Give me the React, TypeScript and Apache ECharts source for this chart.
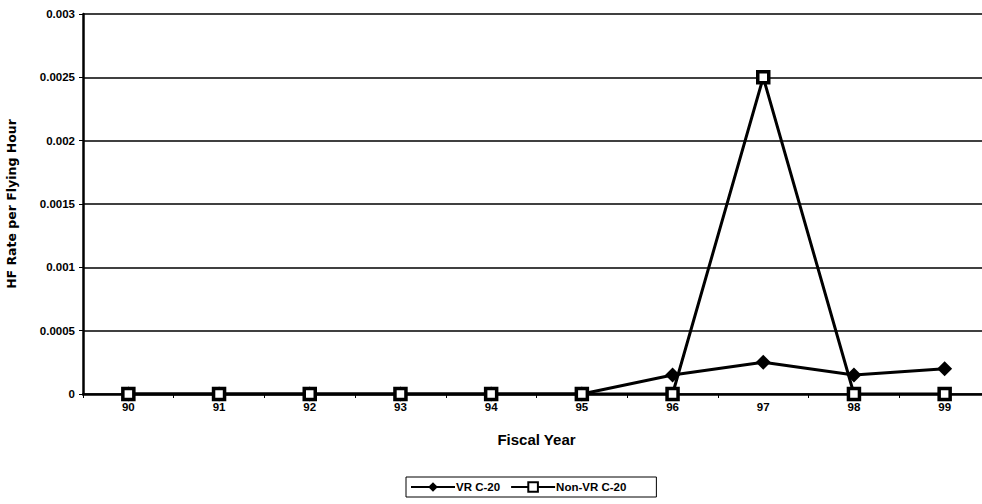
import React, { useEffect, useRef } from "react";
import * as echarts from "echarts";

const fiscalYears = ["90", "91", "92", "93", "94", "95", "96", "97", "98", "99"];
const vrC20 = [0, 0, 0, 0, 0, 0, 0.00015, 0.00025, 0.00015, 0.0002];
const nonVrC20 = [0, 0, 0, 0, 0, 0, 0, 0.0025, 0, 0];

const FONT = "'Liberation Sans', Arial, sans-serif";
const WIDE_FONT = "'DejaVu Sans', 'Liberation Sans', sans-serif";

export default function App() {
  const ref = useRef<HTMLDivElement>(null);

  useEffect(() => {
    if (!ref.current) return;
    const chart = echarts.init(ref.current, null, { renderer: "svg" });
    chart.setOption({
      animation: false,
      backgroundColor: "#ffffff",
      textStyle: { fontFamily: FONT, color: "#000" },
      // plot area runs a little past the right edge of the visible page
      grid: { left: 83, right: 0, top: 14, bottom: 110, containLabel: false, outerBoundsMode: "none" },
      legend: {
        bottom: 7,
        left: 406,
        itemGap: 10,
        itemWidth: 44,
        itemHeight: 12,
        borderColor: "#000",
        borderWidth: 1,
        borderRadius: 0,
        padding: [4, 30, 4, 4],
        textStyle: { fontFamily: FONT, fontSize: 11.5, color: "#000", fontWeight: "bold", padding: [0, 0, 0, -4] },
        data: ["VR C-20", "Non-VR C-20"],
      },
      xAxis: {
        type: "category",
        data: fiscalYears,
        boundaryGap: true,
        name: "Fiscal Year",
        nameLocation: "middle",
        nameGap: 38,
        nameTextStyle: { fontFamily: FONT, fontSize: 15, fontWeight: "bold", color: "#000" },
        axisLine: { lineStyle: { color: "#000", width: 2.5 } },
        axisTick: { show: true, length: 4, lineStyle: { color: "#000", width: 1 } },
        axisLabel: { fontFamily: FONT, fontSize: 11.5, fontWeight: "bold", color: "#000", margin: 7 },
        splitLine: { show: false },
      },
      yAxis: {
        type: "value",
        min: 0,
        max: 0.003,
        interval: 0.0005,
        name: "HF Rate per Flying Hour",
        nameLocation: "middle",
        nameGap: 65,
        nameRotate: 90,
        nameTextStyle: { fontFamily: WIDE_FONT, fontSize: 12.5, fontWeight: "bold", color: "#000" },
        axisLine: { show: true, lineStyle: { color: "#000", width: 2.5 } },
        axisTick: { show: true, length: 4, lineStyle: { color: "#000", width: 1 } },
        axisLabel: {
          fontFamily: FONT,
          fontSize: 11.5,
          fontWeight: "bold",
          color: "#000",
          margin: 8,
          formatter: (v: number) => (v === 0 ? "0" : String(parseFloat(v.toFixed(4)))),
        },
        splitLine: { show: true, lineStyle: { color: "#000", width: 1.5 } },
      },
      series: [
        {
          name: "VR C-20",
          type: "line",
          data: vrC20,
          symbol: "diamond",
          symbolSize: 15,
          itemStyle: { color: "#000" },
          lineStyle: { color: "#000", width: 3 },
          z: 3,
        },
        {
          name: "Non-VR C-20",
          type: "line",
          data: nonVrC20,
          symbol: "rect",
          symbolSize: 11,
          itemStyle: { color: "#fff", borderColor: "#000", borderWidth: 3.5 },
          lineStyle: { color: "#000", width: 3 },
          z: 4,
        },
      ],
    });
    return () => chart.dispose();
  }, []);

  return (
    <div
      style={{ position: "fixed", left: 0, top: 0, width: 982, height: 504, overflow: "hidden", background: "#fff" }}
    >
      <div ref={ref} style={{ width: 990, height: 504 }} />
    </div>
  );
}
